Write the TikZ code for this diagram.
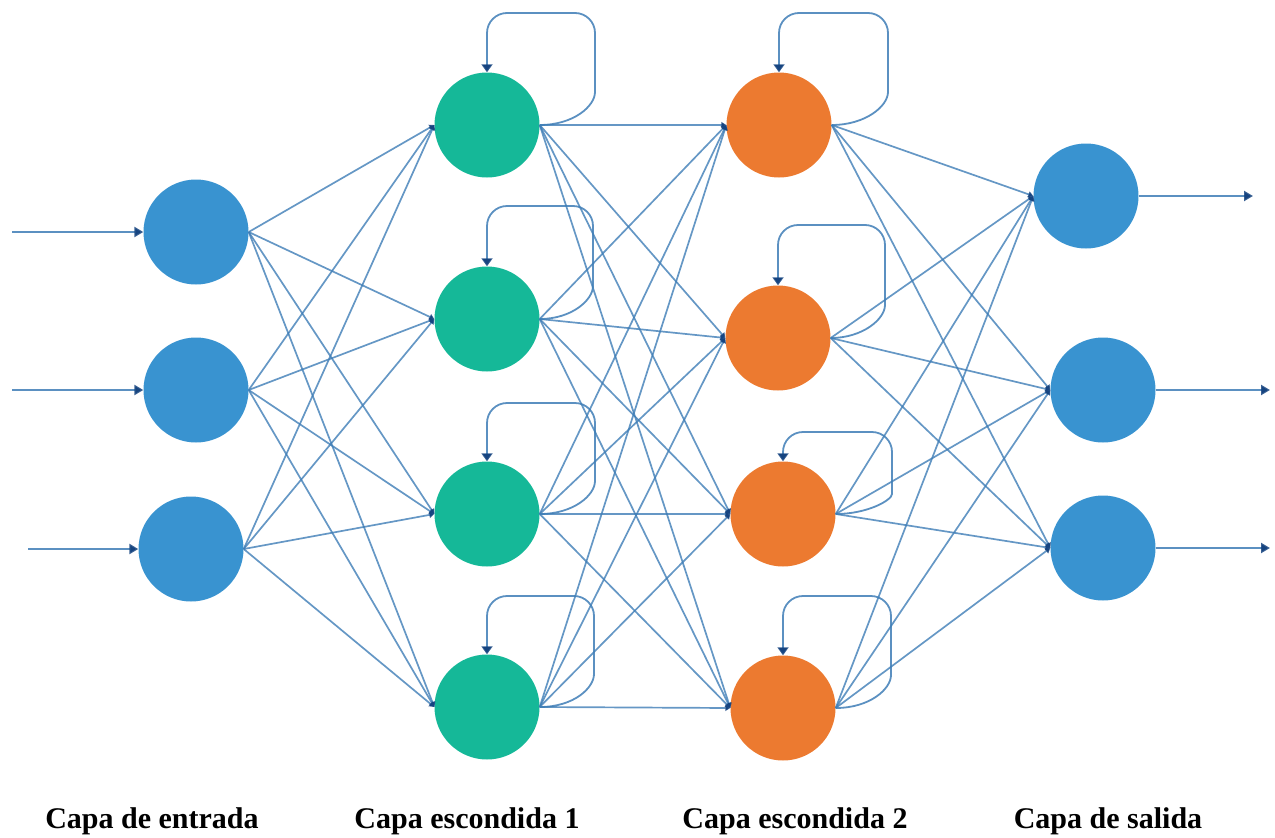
\documentclass[tikz,border=0pt]{standalone}
\usepackage{fontspec}
\setmainfont{Liberation Serif}
\usetikzlibrary{arrows.meta}

\definecolor{inblue}{RGB}{57,147,208}
\definecolor{hgreen}{RGB}{21,184,152}
\definecolor{horange}{RGB}{236,122,48}
\definecolor{wireblue}{RGB}{62,125,182}
\definecolor{tipnavy}{RGB}{22,68,128}

\begin{document}
\begin{tikzpicture}[x=1pt,y=-1pt,
  neuron/.style={circle,minimum size=105pt,inner sep=0pt,draw=none},
  inneuron/.style={neuron,fill=inblue},
  greenneuron/.style={neuron,fill=hgreen},
  orangeneuron/.style={neuron,fill=horange},
  link/.style={draw=wireblue,line width=1.7pt,draw opacity=0.8,
    -{Triangle[width=6pt,length=5pt,color=tipnavy]}},
  ioarrow/.style={draw=wireblue,line width=2.2pt,draw opacity=0.85,
    -{Triangle[width=10pt,length=9pt,color=tipnavy]}},
  selfloop/.style={draw=wireblue,line width=1.8pt,draw opacity=0.85,
    rounded corners=20pt,
    -{Triangle[width=11pt,length=8pt,color=tipnavy]}},
  layerlabel/.style={anchor=base,font=\bfseries\fontsize{30}{36}\selectfont}]

\useasboundingbox (0,0) rectangle (1275,838);

% input layer
\node[inneuron] (i1) at (196,232) {};
\node[inneuron] (i2) at (196,390) {};
\node[inneuron] (i3) at (191,549) {};

% hidden layer 1
\node[greenneuron] (g1) at (487,125) {};
\node[greenneuron] (g2) at (487,319) {};
\node[greenneuron] (g3) at (487,514) {};
\node[greenneuron] (g4) at (487,707) {};

% hidden layer 2
\node[orangeneuron] (o1) at (779,125) {};
\node[orangeneuron] (o2) at (778,338) {};
\node[orangeneuron] (o3) at (783,514) {};
\node[orangeneuron] (o4) at (783,708) {};

% output layer
\node[inneuron] (u1) at (1086,196) {};
\node[inneuron] (u2) at (1103,390) {};
\node[inneuron] (u3) at (1103,548) {};

% external inputs and outputs
\coordinate (x1) at (12,232);
\coordinate (x2) at (12,390);
\coordinate (x3) at (28,549);
\coordinate (y1) at (1253,196);
\coordinate (y2) at (1270,390);
\coordinate (y3) at (1270,548);
\foreach \k in {1,2,3} {
  \draw[ioarrow] (x\k) -- (i\k.west);
}
\draw[ioarrow] (u1.east) -- (y1);
\draw[ioarrow] (u2.east) -- (y2);
\draw[ioarrow] (u3.east) -- (y3);

% full connections between consecutive layers
\foreach \a in {1,2,3} {
  \foreach \b in {1,2,3,4} {
    \draw[link] (i\a.east) -- (g\b.west);
  }
}
\foreach \a in {1,2,3,4} {
  \foreach \b in {1,2,3,4} {
    \draw[link] (g\a.east) -- (o\b.west);
  }
}
\foreach \a in {1,2,3,4} {
  \foreach \b in {1,2,3} {
    \draw[link] (o\a.east) -- (u\b.west);
  }
}

% recurrent self-connections
\draw[selfloop] (g1.east) .. controls +(34,0) and +(0,34) .. (595,72) -- (595,13) -- (487,13) -- (g1.north);
\draw[selfloop] (g2.east) .. controls +(32,0) and +(0,34) .. (593,266) -- (593,206) -- (487,206) -- (g2.north);
\draw[selfloop] (g3.east) .. controls +(34,0) and +(0,34) .. (595,461) -- (595,403) -- (487,403) -- (g3.north);
\draw[selfloop] (g4.east) .. controls +(34,0) and +(0,34) .. (594,654) -- (594,596) -- (487,596) -- (g4.north);

\draw[selfloop] (o1.east) .. controls +(34,0) and +(0,34) .. (888,72) -- (888,13) -- (779,13) -- (o1.north);
\draw[selfloop] (o2.east) .. controls +(32,0) and +(0,34) .. (885,285) -- (885,225) -- (778,225) -- (o2.north);
\draw[selfloop] (o3.east) .. controls +(32,0) and +(0,26) .. (892,474) -- (892,432) -- (783,432) -- (o3.north);
\draw[selfloop] (o4.east) .. controls +(34,0) and +(0,34) .. (891,655) -- (891,596) -- (783,596) -- (o4.north);

% layer captions
\node[layerlabel] (l1) at (152,828) {Capa de entrada};
\node[layerlabel] (l2) at (467,828) {Capa escondida 1};
\node[layerlabel] (l3) at (795,828) {Capa escondida 2};
\node[layerlabel] (l4) at (1108,828) {Capa de salida};

\end{tikzpicture}
\end{document}
